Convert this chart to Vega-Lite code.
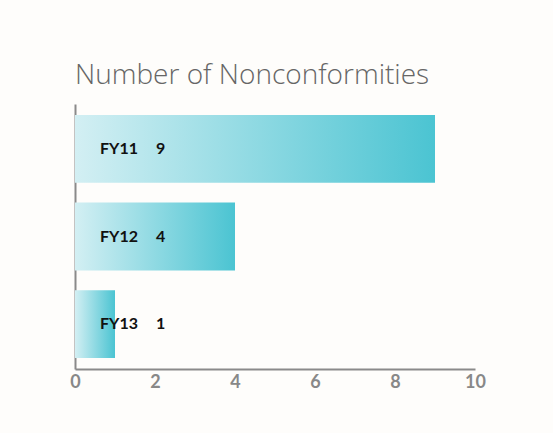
{
  "$schema": "https://vega.github.io/schema/vega-lite/v6.json",
  "width": 400,
  "height": 265,
  "autosize": {"type": "none"},
  "padding": {"left": 75, "top": 104, "right": 78, "bottom": 64},
  "background": "#fefdfb",
  "config": {"view": {"stroke": null}},
  "title": {
    "text": "Number of Nonconformities",
    "anchor": "start",
    "frame": "group",
    "font": "Open Sans",
    "fontSize": 28,
    "fontWeight": 300,
    "color": "#666666",
    "baseline": "alphabetic",
    "offset": -8
  },
  "data": {
    "values": [
      {"year": "FY11", "count": 9},
      {"year": "FY12", "count": 4},
      {"year": "FY13", "count": 1}
    ]
  },
  "encoding": {
    "y": {
      "field": "year",
      "type": "nominal",
      "sort": null,
      "scale": {"paddingInner": 0.227, "paddingOuter": 0.125},
      "axis": {"title": null, "labels": false, "ticks": false, "domainColor": "#8a8a8a", "domainWidth": 2}
    }
  },
  "layer": [
    {
      "mark": {
        "type": "bar",
        "color": {
          "gradient": "linear",
          "x1": 0, "y1": 0, "x2": 1, "y2": 0,
          "stops": [
            {"offset": 0, "color": "#d3eff3"},
            {"offset": 1, "color": "#4bc4d2"}
          ]
        }
      },
      "encoding": {
        "x": {
          "field": "count",
          "type": "quantitative",
          "scale": {"domain": [0, 10]},
          "axis": {
            "title": null,
            "values": [0, 2, 4, 6, 8, 10],
            "grid": false,
            "ticks": false,
            "labelFlush": false,
            "domainColor": "#8a8a8a",
            "domainWidth": 2,
            "labelColor": "#888888",
            "labelFont": "Lato",
            "labelFontWeight": "bold",
            "labelFontSize": 18,
            "labelPadding": 4
          }
        }
      }
    },
    {
      "mark": {"type": "text", "align": "left", "dx": 25, "font": "Lato", "fontWeight": "bold", "fontSize": 16, "color": "#111111"},
      "encoding": {
        "x": {"datum": 0, "type": "quantitative"},
        "text": {"field": "year"}
      }
    },
    {
      "mark": {"type": "text", "align": "left", "dx": 81, "font": "Lato", "fontWeight": "bold", "fontSize": 16, "color": "#111111"},
      "encoding": {
        "x": {"datum": 0, "type": "quantitative"},
        "text": {"field": "count", "type": "quantitative"}
      }
    }
  ]
}
